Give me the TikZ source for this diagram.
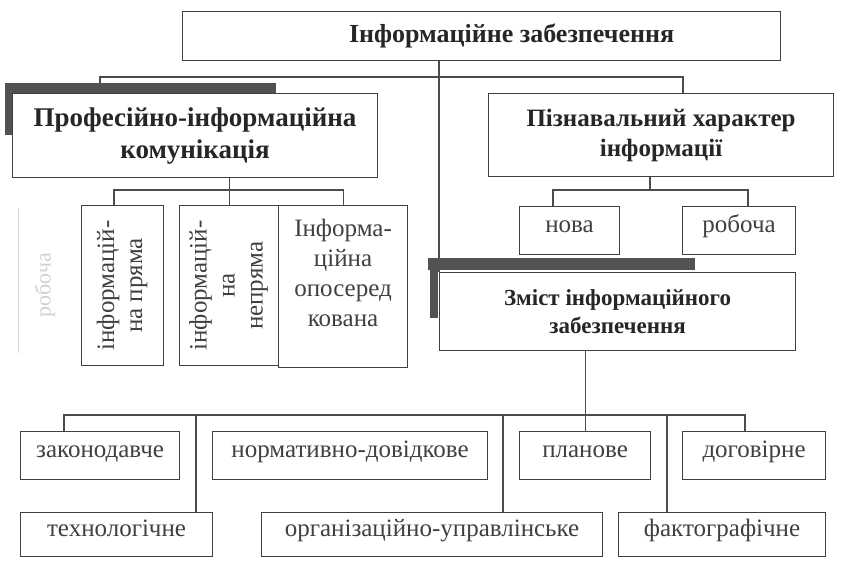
\documentclass[tikz,border=0pt]{standalone}
\usepackage{fontspec}
\setmainfont{Liberation Serif}
\usepackage{graphicx}
\usetikzlibrary{positioning}

\newcommand{\vlabel}[1]{\rotatebox{90}{\begin{tabular}{@{}c@{}}#1\end{tabular}}}

\begin{document}
\begin{tikzpicture}[
  x=1pt, y=-1pt,
  box/.style={draw=black!75, line width=1.1pt, fill=white, align=center,
              inner sep=2pt, anchor=north west, text=black!75,
              font=\fontsize{25}{30}\selectfont},
  item/.style={box, text height=1.5ex, text depth=.5ex},
  head/.style={box, text=black!85, font=\fontsize{25}{30}\selectfont\bfseries},
  vbox/.style={box, minimum height=160, font=\fontsize{25}{28}\selectfont},
  link/.style={draw=black!70, line width=1.1pt},
  scar/.style={fill=black!68},
]
\fill[white] (0,0) rectangle (842,560);
\useasboundingbox (0,0) rectangle (842,560);

% top level
\node[head, minimum width=598, minimum height=49, font=\fontsize{26}{30}\selectfont\bfseries] (title) at (182,11) {\hspace*{60pt}Інформаційне забезпечення};
\node[head, minimum width=365, minimum height=84, font=\fontsize{27}{32}\selectfont\bfseries] (prof) at (12,93) {Професійно-інформаційна\\комунікація};
\node[head, minimum width=345, minimum height=83] (pizn) at (488,93) {Пізнавальний характер\\інформації};

% kinds of communication
\node[vbox, minimum width=82] (pryama) at (81,205) {\vlabel{інформацій-\\на пряма}};
\node[vbox, minimum width=99] (nepryama) at (179,205) {\vlabel{інформацій-\\на\\непряма}};
\node[vbox, minimum width=129, minimum height=162, font=\fontsize{25}{30}\selectfont] (oposer) at (278,205) {Інформа-\\ційна\\опосеред\\кована\\[-2pt]};

% kinds of information
\node[item, minimum width=100, minimum height=48] (nova) at (519,206) {нова};
\node[item, minimum width=113, minimum height=48] (rob) at (682,206) {робоча};

\node[head, minimum width=356, minimum height=78, font=\fontsize{23}{28}\selectfont\bfseries] (zmist) at (439,272) {Зміст інформаційного\\забезпечення};

% content, first row
\node[item, minimum width=159, minimum height=48] (zak) at (20,431) {законодавче};
\node[item, minimum width=275, minimum height=48] (norm) at (212,431) {нормативно-довідкове};
\node[item, minimum width=131, minimum height=48] (plan) at (519,431) {планове};
\node[item, minimum width=143, minimum height=48] (dog) at (682,431) {договірне};
% content, second row
\node[item, minimum width=192, minimum height=44] (tech) at (20,512) {технологічне};
\node[item, minimum width=341, minimum height=44] (org) at (261,512) {організаційно-управлінське};
\node[item, minimum width=207, minimum height=44] (fact) at (618,512) {фактографічне};

% faint print on the left
\draw[black!15, line width=1pt] (18,208) -- (18,353);
\node[text=black!18, rotate=90, font=\fontsize{22}{26}\selectfont] (ghost) at (45,285) {робоча};

% connectors
\draw[link] (zmist.north west |- title.south) -- (zmist.north west);
\draw[link] ([xshift=88]prof.north west) -- ++(0,-16) -| ([xshift=195]pizn.north west);
\draw[link] (prof.south -| nepryama.north) -- (nepryama.north);
\draw[link] ([xshift=33]pryama.north west) -- ++(0,-15) -| (oposer.north);
\draw[link] ([xshift=34]nova.north west) -- ++(0,-16) -| ([xshift=66]rob.north west);
\draw[link] ([xshift=162]pizn.south west) -- ++(0,14);
\draw[link] (zmist.south -| plan.north) -- (plan.north);
\draw[link] ([xshift=44]zak.north west) -- ++(0,-16) -| ([xshift=63]dog.north west);
\draw[link] ([xshift=176]tech.north west) -- ++(0,-97);
\draw[link] ([xshift=242]org.north west) -- ++(0,-97);
\draw[link] ([xshift=49]fact.north west) -- ++(0,-97);

% dark print marks
\fill[scar] (5,83) rectangle (276,93);
\fill[scar] (5,83) rectangle (12,135);
\fill[scar] (428,258) rectangle (695,270);
\fill[scar] (430,258) rectangle (438,318);
\end{tikzpicture}
\end{document}
